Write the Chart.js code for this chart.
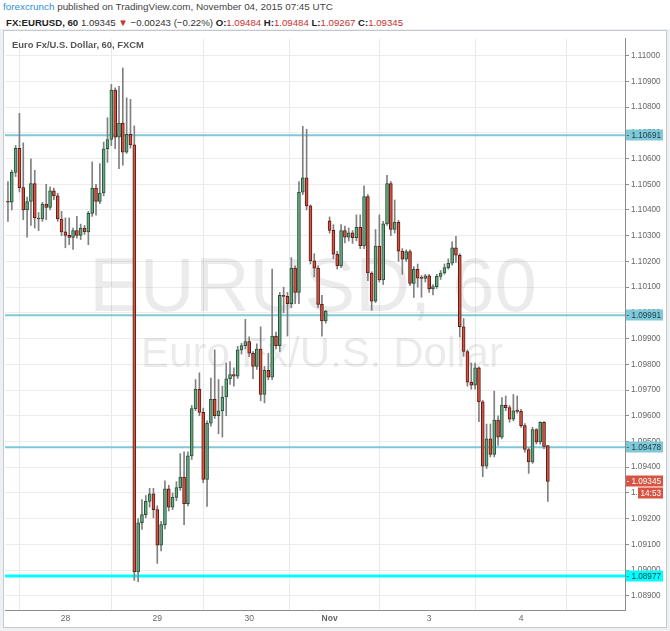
<!DOCTYPE html>
<html>
<head>
<meta charset="utf-8">
<script src="https://cdn.jsdelivr.net/npm/chart.js@4.4.0/dist/chart.umd.min.js"></script>
<style>
  html, body { margin: 0; padding: 0; width: 670px; height: 631px; overflow: hidden; background: #fff;
    font-family: "Liberation Sans", Arial, sans-serif; }
  #head1 { position: absolute; left: 3px; top: 1px; font-size: 9.85px; color: #444; white-space: nowrap; }
  #head1 .who { color: #2f8fcf; }
  #head2 { position: absolute; left: 6px; top: 17px; font-size: 9.65px; color: #333; white-space: nowrap; }
  #head2 b { color: #222; }
  #head2 .red { color: #c9302c; }
  #backdrop { position: absolute; left: 0; top: 29px; width: 670px; height: 602px; background: #eef1f4; }
  #frame { position: absolute; left: 3px; top: 30px; width: 662px; height: 596px; border: 1px solid #c5c8cc; background: #fff; }
  #wrap { position: absolute; left: 5px; top: 32px; width: 661px; height: 595px; }
  #title { position: absolute; left: 12px; top: 39px; font-size: 9.4px; color: #555; font-weight: bold; white-space: nowrap; }
</style>
</head>
<body>
<div id="head1"><span class="who">forexcrunch</span> published on TradingView.com, November 04, 2015 07:45 UTC</div>
<div id="head2"><b>FX:EURUSD, 60</b> 1.09345 <span class="red">&#9660;</span> &minus;0.00243 (&minus;0.22%) <b>O:</b><span class="red">1.09484</span> <b>H:</b><span class="red">1.09484</span> <b>L:</b><span class="red">1.09267</span> <b>C:</b><span class="red">1.09345</span></div>
<div id="backdrop"></div>
<div id="frame"></div>
<div id="wrap"><canvas id="chart" width="661" height="595"></canvas></div>
<div id="title">Euro Fx/U.S. Dollar, 60, FXCM</div>
<script>
// hourly bars, hour 0 = Oct 28 00:00 UTC, weekend hours skipped
const firstHour = -15;

const opens = [
  1.10432, 1.10430, 1.10546, 1.10640, 1.10487, 1.10400, 1.10433, 1.10503, 1.10369, 1.10365,
  1.10423, 1.10410, 1.10474, 1.10455, 1.10365, 1.10315, 1.10301, 1.10293, 1.10320, 1.10301,
  1.10330, 1.10315, 1.10387, 1.10485, 1.10433, 1.10466, 1.10638, 1.10674, 1.10866, 1.10683,
  1.10738, 1.10625, 1.10694, 1.10653, 1.08993, 1.09184, 1.09216, 1.09267, 1.09297, 1.09235,
  1.09097, 1.09177, 1.09316, 1.09245, 1.09283, 1.09321, 1.09362, 1.09258, 1.09444, 1.09628,
  1.09703, 1.09613, 1.09353, 1.09571, 1.09664, 1.09600, 1.09619, 1.09673, 1.09744, 1.09760,
  1.09754, 1.09856, 1.09873, 1.09888, 1.09843, 1.09792, 1.09859, 1.09683, 1.09777, 1.09750,
  1.09910, 1.09873, 1.10068, 1.10064, 1.10036, 1.10174, 1.10080, 1.10469, 1.10525, 1.10416,
  1.10202, 1.10174, 1.10033, 1.09969, 1.10358, 1.10321, 1.10228, 1.10183, 1.10320, 1.10294,
  1.10311, 1.10292, 1.10333, 1.10260, 1.10452, 1.10155, 1.10046, 1.10260, 1.10128, 1.10346,
  1.10503, 1.10324, 1.10352, 1.10240, 1.10209, 1.10238, 1.10115, 1.10169, 1.10135, 1.10134,
  1.10144, 1.10093, 1.10102, 1.10142, 1.10155, 1.10176, 1.10193, 1.10253, 1.10224, 1.09946,
  1.09850, 1.09731, 1.09719, 1.09786, 1.09654, 1.09404, 1.09510, 1.09450, 1.09583, 1.09517,
  1.09642, 1.09632, 1.09587, 1.09619, 1.09617, 1.09562, 1.09469, 1.09421, 1.09546, 1.09498,
  1.09575, 1.09484
];
const highs = [
  1.10510, 1.10555, 1.10651, 1.10776, 1.10661, 1.10450, 1.10599, 1.10554, 1.10390, 1.10430,
  1.10500, 1.10490, 1.10485, 1.10465, 1.10395, 1.10369, 1.10369, 1.10330, 1.10375, 1.10345,
  1.10340, 1.10395, 1.10587, 1.10500, 1.10580, 1.10664, 1.10759, 1.10888, 1.10875, 1.10881,
  1.10952, 1.10836, 1.10830, 1.10727, 1.09200, 1.09274, 1.09290, 1.09318, 1.09318, 1.09250,
  1.09190, 1.09347, 1.09330, 1.09300, 1.09344, 1.09453, 1.09460, 1.09460, 1.09640, 1.09741,
  1.09767, 1.09630, 1.09580, 1.09747, 1.09856, 1.09741, 1.09715, 1.09805, 1.09811, 1.09786,
  1.09870, 1.09882, 1.09975, 1.09907, 1.09850, 1.09880, 1.09946, 1.09792, 1.09843, 1.10170,
  1.09925, 1.10080, 1.10100, 1.10080, 1.10215, 1.10183, 1.10510, 1.10725, 1.10714, 1.10420,
  1.10230, 1.10183, 1.10068, 1.10010, 1.10373, 1.10343, 1.10240, 1.10343, 1.10337, 1.10330,
  1.10320, 1.10381, 1.10381, 1.10494, 1.10460, 1.10160, 1.10324, 1.10381, 1.10356, 1.10535,
  1.10510, 1.10439, 1.10360, 1.10250, 1.10245, 1.10245, 1.10180, 1.10190, 1.10145, 1.10150,
  1.10150, 1.10110, 1.10150, 1.10165, 1.10190, 1.10210, 1.10276, 1.10298, 1.10230, 1.09978,
  1.09856, 1.09805, 1.09805, 1.09790, 1.09660, 1.09568, 1.09568, 1.09696, 1.09600, 1.09671,
  1.09677, 1.09640, 1.09683, 1.09677, 1.09625, 1.09570, 1.09475, 1.09555, 1.09550, 1.09577,
  1.09577, 1.09484
];
const lows = [
  1.10356, 1.10400, 1.10530, 1.10470, 1.10362, 1.10294, 1.10340, 1.10330, 1.10320, 1.10356,
  1.10362, 1.10400, 1.10440, 1.10356, 1.10300, 1.10253, 1.10265, 1.10247, 1.10290, 1.10285,
  1.10305, 1.10265, 1.10375, 1.10380, 1.10425, 1.10455, 1.10585, 1.10650, 1.10638, 1.10561,
  1.10574, 1.10620, 1.10640, 1.08960, 1.08955, 1.09158, 1.09203, 1.09245, 1.09203, 1.09026,
  1.09075, 1.09160, 1.09230, 1.09235, 1.09270, 1.09310, 1.09177, 1.09250, 1.09430, 1.09620,
  1.09600, 1.09340, 1.09248, 1.09560, 1.09590, 1.09530, 1.09517, 1.09600, 1.09722, 1.09715,
  1.09745, 1.09840, 1.09860, 1.09830, 1.09744, 1.09780, 1.09658, 1.09650, 1.09740, 1.09740,
  1.09860, 1.09850, 1.10000, 1.09910, 1.10020, 1.10036, 1.10036, 1.10460, 1.10400, 1.10190,
  1.10140, 1.10020, 1.09909, 1.09960, 1.10310, 1.10210, 1.10170, 1.10176, 1.10272, 1.10280,
  1.10270, 1.10280, 1.10250, 1.10250, 1.10125, 1.10010, 1.10040, 1.10120, 1.10110, 1.10340,
  1.10300, 1.10310, 1.10200, 1.10150, 1.10200, 1.10106, 1.10060, 1.10100, 1.10061, 1.10120,
  1.10080, 1.10070, 1.10095, 1.10130, 1.10150, 1.10170, 1.10185, 1.10196, 1.09907, 1.09831,
  1.09715, 1.09703, 1.09703, 1.09577, 1.09363, 1.09395, 1.09440, 1.09440, 1.09485, 1.09510,
  1.09620, 1.09575, 1.09580, 1.09610, 1.09555, 1.09459, 1.09376, 1.09415, 1.09490, 1.09490,
  1.09472, 1.09267
];
const closes = [
  1.10430, 1.10546, 1.10640, 1.10487, 1.10400, 1.10433, 1.10503, 1.10369, 1.10365, 1.10423,
  1.10410, 1.10474, 1.10455, 1.10365, 1.10315, 1.10301, 1.10293, 1.10320, 1.10301, 1.10330,
  1.10315, 1.10387, 1.10485, 1.10433, 1.10466, 1.10638, 1.10674, 1.10866, 1.10683, 1.10738,
  1.10625, 1.10694, 1.10653, 1.08993, 1.09184, 1.09216, 1.09267, 1.09297, 1.09235, 1.09097,
  1.09177, 1.09316, 1.09245, 1.09283, 1.09321, 1.09362, 1.09258, 1.09444, 1.09628, 1.09703,
  1.09613, 1.09353, 1.09571, 1.09664, 1.09600, 1.09619, 1.09673, 1.09744, 1.09760, 1.09754,
  1.09856, 1.09873, 1.09888, 1.09843, 1.09792, 1.09859, 1.09683, 1.09777, 1.09750, 1.09910,
  1.09873, 1.10068, 1.10064, 1.10036, 1.10174, 1.10080, 1.10469, 1.10525, 1.10416, 1.10202,
  1.10174, 1.10033, 1.09969, 1.10007, 1.10321, 1.10228, 1.10183, 1.10320, 1.10294, 1.10311,
  1.10292, 1.10333, 1.10260, 1.10452, 1.10155, 1.10046, 1.10260, 1.10128, 1.10346, 1.10503,
  1.10324, 1.10352, 1.10240, 1.10209, 1.10238, 1.10115, 1.10169, 1.10135, 1.10134, 1.10144,
  1.10093, 1.10102, 1.10142, 1.10155, 1.10176, 1.10193, 1.10253, 1.10224, 1.09946, 1.09850,
  1.09731, 1.09719, 1.09786, 1.09654, 1.09404, 1.09510, 1.09450, 1.09583, 1.09517, 1.09642,
  1.09632, 1.09587, 1.09619, 1.09617, 1.09562, 1.09469, 1.09421, 1.09546, 1.09498, 1.09575,
  1.09481, 1.09345
];

const dayTicks = [0, 24, 48, 69, 95, 119];
const dayLabels = ['28', '29', '30', 'Nov', '3', '4'];
const priceTicks = [
  1.089, 1.090, 1.091, 1.092, 1.093, 1.094, 1.095, 1.096, 1.097, 1.098, 1.099,
  1.100, 1.101, 1.102, 1.103, 1.104, 1.105, 1.106, 1.107, 1.108, 1.109, 1.110
];
const levelLines = [1.10691, 1.09991, 1.09478];
const supportLine = 1.08977;
const lastClose = 1.09345;
const barCountdown = '14:53';

const upFill = '#6ba583', upEdge = '#225437';
const downFill = '#d75442', downEdge = '#5b1a13';
const xMin = -15.77, xMax = 146.15;

const bodies = opens.map((o, k) => ({ x: firstHour + k, y: [o, closes[k]] }));
const wicks = lows.map((l, k) => ({ x: firstHour + k, y: [l, highs[k]] }));
const isUp = opens.map((o, k) => closes[k] >= o);

function flatLine(v) {
  return [{ x: xMin - 1, y: v }, { x: xMax + 1, y: v }];
}

const watermark = {
  id: 'watermark',
  beforeDatasetsDraw(chart) {
    const c = chart.ctx;
    c.save();
    c.fillStyle = 'rgba(0,0,0,0.08)';
    c.textAlign = 'center';
    c.textBaseline = 'middle';
    c.font = '76px "Liberation Sans", Arial, sans-serif';
    c.fillText('EURUSD, 60', 313 - 5, 290 - 32);
    c.font = '42px "Liberation Sans", Arial, sans-serif';
    c.fillText('Euro Fx/U.S. Dollar', 322 - 5, 355 - 32);
    c.restore();
  }
};

const priceTags = {
  id: 'priceTags',
  afterDraw(chart) {
    const c = chart.ctx, y = chart.scales.y, x0 = chart.chartArea.right + 1;
    function tag(v, bg, fg, text, left, w) {
      const py = Math.round(y.getPixelForValue(v));
      c.fillStyle = bg;
      c.fillRect(left, py - 5.5, w, 11);
      c.fillStyle = fg;
      c.fillText(text, left + w - 2, py + 0.5);
    }
    c.save();
    c.font = '8.2px "Liberation Sans", Arial, sans-serif';
    c.textAlign = 'right';
    c.textBaseline = 'middle';
    levelLines.forEach(v => tag(v, '#7ec8d8', '#1d3c44', '- ' + v.toFixed(5), x0, 37));
    tag(supportLine, '#00ffff', '#1d3c44', '- ' + supportLine.toFixed(5), x0, 37);
    tag(lastClose, '#d75442', '#ffffff', '- ' + lastClose.toFixed(5), x0, 37);
    const py = Math.round(y.getPixelForValue(lastClose)) + 12;
    c.fillStyle = '#d75442';
    c.fillRect(x0 + 12, py - 5.5, 25, 11);
    c.fillStyle = '#ffffff';
    c.fillText(barCountdown, x0 + 35, py + 0.5);
    c.restore();
  }
};

const ctx = document.getElementById('chart').getContext('2d');
new Chart(ctx, {
  type: 'bar',
  data: {
    datasets: [
      {
        label: 'body', data: bodies, grouped: false, barThickness: 3, minBarLength: 1,
        backgroundColor: isUp.map(u => u ? upFill : downFill),
        borderColor: isUp.map(u => u ? upEdge : downEdge),
        borderWidth: 1, borderSkipped: false
      },
      { label: 'wick', data: wicks, grouped: false, barThickness: 1, backgroundColor: '#808080' },
      ...levelLines.map(v => ({
        type: 'line', label: 'level', data: flatLine(v), borderColor: '#7ec8d8',
        borderWidth: 2, pointRadius: 0
      })),
      {
        type: 'line', label: 'support', data: flatLine(supportLine), borderColor: '#00ffff',
        borderWidth: 3, pointRadius: 0
      }
    ]
  },
  options: {
    responsive: false,
    animation: false,
    events: [],
    layout: { padding: 0 },
    plugins: { legend: { display: false }, tooltip: { enabled: false } },
    scales: {
      x: {
        type: 'linear', min: xMin, max: xMax, offset: false,
        afterBuildTicks: s => { s.ticks = dayTicks.map(v => ({ value: v })); },
        afterFit: s => { s.height = 17; },
        grid: { color: '#e9e9e9', drawTicks: false },
        border: { color: '#8c8c8c' },
        ticks: {
          autoSkip: false, maxRotation: 0, padding: 4, color: '#666',
          font: c => ({ family: '"Liberation Sans", Arial, sans-serif', size: 8.5,
            weight: c.tick && c.tick.value === 69 ? 'bold' : 'normal' }),
          callback: v => dayLabels[dayTicks.indexOf(v)]
        }
      },
      y: {
        position: 'right', min: 1.08845, max: 1.11065,
        afterBuildTicks: s => { s.ticks = priceTicks.map(v => ({ value: v })); },
        afterFit: s => { s.width = 41; },
        grid: { color: '#ececec', tickLength: 4, tickColor: '#8c8c8c' },
        border: { color: '#8c8c8c' },
        ticks: {
          padding: 2, color: '#666',
          font: { family: '"Liberation Sans", Arial, sans-serif', size: 8.2 },
          callback: v => v.toFixed(5)
        }
      }
    }
  },
  plugins: [watermark, priceTags]
});
</script>
</body>
</html>
